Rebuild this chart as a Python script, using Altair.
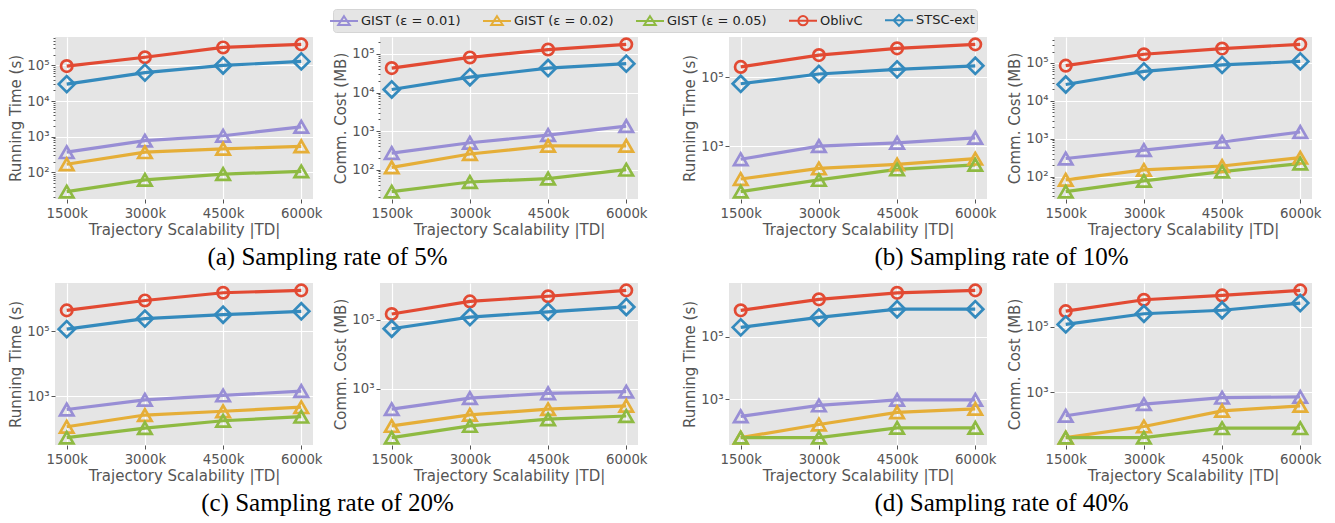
import math
import altair as alt
import pandas as pd

# ---------------- data ----------------
x_values = [1500, 3000, 4500, 6000]
tick_labels = ["1500k", "3000k", "4500k", "6000k"]
series_names = ["GIST (ε = 0.01)", "GIST (ε = 0.02)", "GIST (ε = 0.05)", "OblivC", "STSC-ext"]
series_colors = ["#988ED5", "#E5AE38", "#8EBA42", "#E24A33", "#348ABD"]

# rows: GIST 0.01, GIST 0.02, GIST 0.05, OblivC, STSC-ext
time_5 = [
    [370, 780, 1070, 1900],
    [170, 370, 460, 540],
    [29, 62, 90, 107],
    [96000, 170000, 320000, 390000],
    [30000, 63000, 100000, 130000],
]
comm_5 = [
    [270, 500, 790, 1350],
    [115, 255, 415, 415],
    [27, 48, 59, 100],
    [43000, 81000, 130000, 177000],
    [12000, 25000, 43000, 56000],
]
time_10 = [
    [425, 1020, 1270, 1770],
    [114, 230, 300, 440],
    [49, 107, 215, 293],
    [200000, 440000, 690000, 900000],
    [65000, 125000, 170000, 215000],
]
comm_10 = [
    [300, 500, 820, 1500],
    [82, 150, 190, 315],
    [40, 77, 135, 220],
    [85000, 170000, 240000, 310000],
    [27000, 60000, 89000, 110000],
]
time_20 = [
    [385, 770, 1050, 1430],
    [113, 260, 340, 455],
    [52, 103, 173, 231],
    [450000, 910000, 1580000, 1870000],
    [118000, 250000, 330000, 420000],
]
comm_20 = [
    [260, 545, 745, 835],
    [85, 178, 260, 325],
    [39, 85, 133, 165],
    [147000, 340000, 480000, 710000],
    [55000, 120000, 170000, 235000],
]
time_40 = [
    [283, 630, 950, 950],
    [59, 155, 380, 490],
    [59, 59, 121, 121],
    [690000, 1550000, 2500000, 3000000],
    [197000, 410000, 750000, 750000],
]
comm_40 = [
    [187, 425, 670, 705],
    [40, 88, 265, 375],
    [40, 40, 78, 78],
    [300000, 670000, 910000, 1300000],
    [118000, 250000, 320000, 530000],
]

subtitles = ["(a) Sampling rate of 5%", "(b) Sampling rate of 10%",
             "(c) Sampling rate of 20%", "(d) Sampling rate of 40%"]
time_title = "Running Time (s)"
comm_title = "Comm. Cost (MB)"
x_title = "Trajectory Scalability |TD|"

# legend symbols: line with a hollow marker
legend_paths = [
    "M-1.75,0H1.75M0,-0.6L0.72,0.5L-0.72,0.5Z",
    "M-1.75,0H1.75M0,-0.6L0.72,0.5L-0.72,0.5Z",
    "M-1.75,0H1.75M0,-0.6L0.72,0.5L-0.72,0.5Z",
    "M-1.75,0H1.75M0.58,0A0.58,0.58,0,1,1,-0.58,0A0.58,0.58,0,1,1,0.58,0Z",
    "M-1.75,0H1.75M0,-0.68L0.68,0L0,0.68L-0.68,0Z",
]

FONT = "DejaVu Sans"
GRAY = "#555555"
W, H = 258, 162

color_scale = alt.Scale(domain=series_names, range=series_colors)
shape_scale = alt.Scale(domain=series_names, range=legend_paths)

L = "(log(datum.value)/LN10)"
IS_MAJOR = f"abs({L} - round({L})) < 0.01"
SUP = "['⁰','¹','²','³','⁴','⁵','⁶','⁷','⁸','⁹']"
Y_LABEL = f"{IS_MAJOR} ? '10' + {SUP}[round({L})] : ''"
X_LABEL = f"{tick_labels}[indexof({x_values}, datum.value)]"

LEG = dict(
    labelFont=FONT, labelFontSize=13, labelColor="#222222",
    symbolSize=256, symbolStrokeWidth=2, symbolOpacity=1,
    labelOffset=8, columnPadding=18, padding=2,
    fillColor="#E5E5E5", strokeColor="#D5D5D5", cornerRadius=3,
)
legend_obj = alt.Legend(orient="none", legendX=278, legendY=-28,
                        direction="horizontal", title=None, **LEG)


def make_df(values):
    rows = []
    for name, ys in zip(series_names, values):
        for x, y in zip(x_values, ys):
            rows.append({"x": x, "y": y, "series": name})
    return pd.DataFrame(rows)


def panel(values, ytitle, majors, minor, with_legend=False):
    df = make_df(values)
    lo = math.log10(df["y"].min())
    hi = math.log10(df["y"].max())
    pad = 0.05 * (hi - lo)
    domain = [10 ** (lo - pad), 10 ** (hi + pad)]
    ticks = [10 ** k for k in majors]
    if minor:
        for k in range(int(math.floor(lo - pad)), int(math.ceil(hi + pad)) + 1):
            for m in range(2, 10):
                v = m * 10 ** k
                if domain[0] <= v <= domain[1]:
                    ticks.append(v)
    yaxis = alt.Axis(
        values=ticks, labelExpr=Y_LABEL, title=ytitle, grid=True,
        gridColor="white", gridWidth=1.2,
        gridOpacity={"condition": {"test": IS_MAJOR, "value": 1}, "value": 0},
        tickSize={"condition": {"test": IS_MAJOR, "value": 4}, "value": 2},
        tickColor=GRAY, tickWidth=1, domain=False, labelOverlap=False,
        labelFlush=False, labelFont=FONT, labelFontSize=13.3, labelColor=GRAY,
        labelPadding=2, titleFont=FONT, titleFontSize=15, titleColor=GRAY,
        titleFontWeight="normal", titlePadding=4, minExtent=28, maxExtent=28,
    )
    xaxis = alt.Axis(
        values=x_values, labelExpr=X_LABEL, title=x_title, grid=True,
        gridColor="white", gridWidth=1.2, tickSize=4, tickColor=GRAY, domain=False,
        labelOverlap=False, labelFlush=False, labelFont=FONT, labelFontSize=13.3,
        labelColor=GRAY, labelPadding=3, titleFont=FONT, titleFontSize=15,
        titleColor=GRAY, titleFontWeight="normal", titlePadding=3,
    )
    xenc = alt.X("x:Q", scale=alt.Scale(domain=[1275, 6225], nice=False, zero=False), axis=xaxis)
    yenc = alt.Y("y:Q", scale=alt.Scale(type="log", domain=domain, nice=False), axis=yaxis)
    base = alt.Chart(df).encode(
        x=xenc, y=yenc,
        color=alt.Color("series:N", scale=color_scale, legend=legend_obj),
    )
    line = base.mark_line(strokeWidth=3.2)
    pt = dict(filled=False, opacity=1, strokeWidth=2.7)
    gist = base.transform_filter(
        alt.FieldOneOfPredicate(field="series", oneOf=series_names[:3])
    ).mark_point(shape="triangle-up", size=180, **pt)
    obl = base.transform_filter(alt.datum.series == "OblivC").mark_point(shape="circle", size=130, **pt)
    sts = base.transform_filter(alt.datum.series == "STSC-ext").mark_point(shape="diamond", size=260, **pt)
    layers = [line, gist, obl, sts]
    if with_legend:
        leg = alt.Chart(df).transform_filter("false").mark_point(filled=False, opacity=1).encode(
            x=xenc, y=yenc,
            color=alt.Color("series:N", scale=color_scale, legend=legend_obj),
            shape=alt.Shape("series:N", scale=shape_scale, legend=legend_obj),
        )
        layers.append(leg)
    return alt.layer(*layers).properties(width=W, height=H)


def sub_title(text):
    return alt.TitleParams(text=text, orient="bottom", anchor="middle",
                           font="Liberation Serif", fontSize=25, fontWeight="normal",
                           color="black", offset=8)


p1 = panel(time_5, time_title, [2, 3, 4, 5], True, with_legend=True)
p2 = panel(comm_5, comm_title, [2, 3, 4, 5], True)
p3 = panel(time_10, time_title, [3, 5], False)
p4 = panel(comm_10, comm_title, [2, 3, 4, 5], True)
p5 = panel(time_20, time_title, [3, 5], False)
p6 = panel(comm_20, comm_title, [3, 5], False)
p7 = panel(time_40, time_title, [3, 5], False)
p8 = panel(comm_40, comm_title, [3, 5], False)

pa = alt.hconcat(p1, p2, spacing=67, bounds="flush", title=sub_title(subtitles[0]))
pb = alt.hconcat(p3, p4, spacing=67, bounds="flush", title=sub_title(subtitles[1]))
pc = alt.hconcat(p5, p6, spacing=67, bounds="flush", title=sub_title(subtitles[2]))
pd_ = alt.hconcat(p7, p8, spacing=67, bounds="flush", title=sub_title(subtitles[3]))

row1 = alt.hconcat(pa, pb, spacing=34)
row2 = alt.hconcat(pc, pd_, spacing=34)

chart = alt.vconcat(row1, row2, spacing=8).resolve_scale(
    color="shared", shape="shared"
).properties(padding=0).configure_view(
    fill="#E5E5E5", stroke=None
).configure_legend(**LEG)

chart.save("out.html", embed_options={"renderer": "svg", "actions": False})
